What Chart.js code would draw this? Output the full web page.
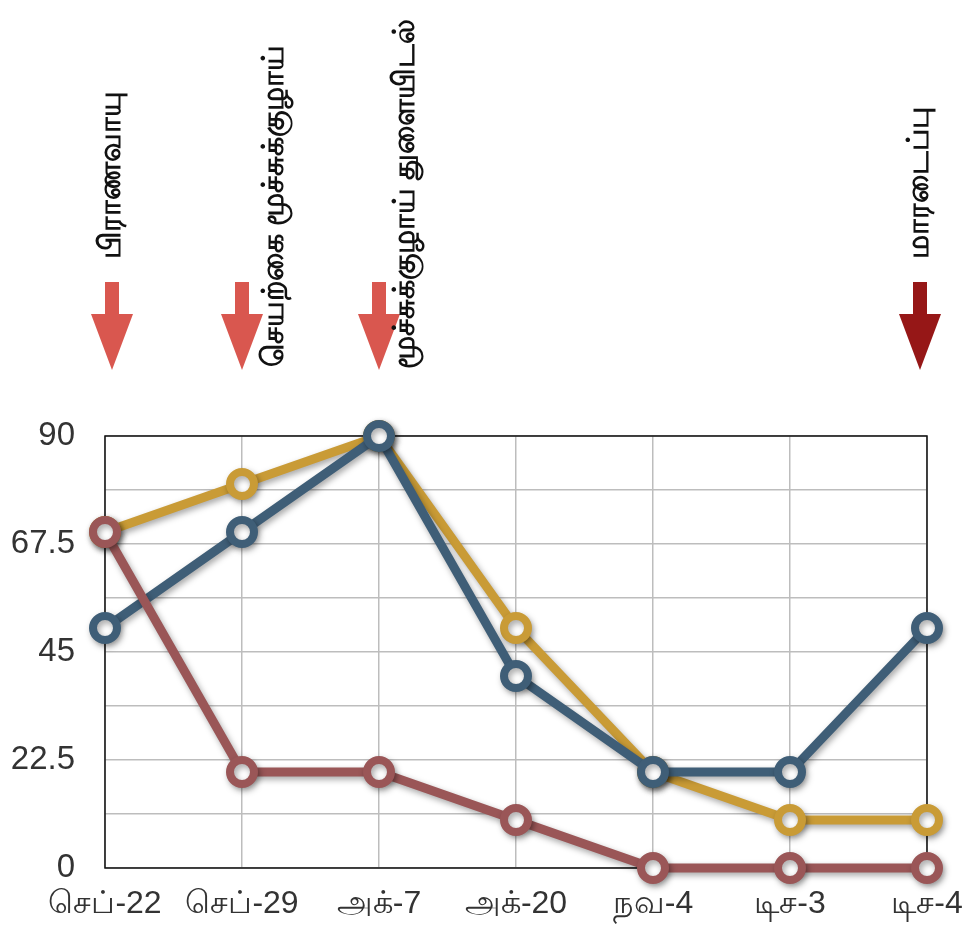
<!DOCTYPE html>
<html>
<head>
<meta charset="utf-8">
<script src="https://cdn.jsdelivr.net/npm/chart.js@4.4.1/dist/chart.umd.min.js"></script>
<style>
  html, body { margin: 0; padding: 0; background: #fff; }
  #wrap { width: 973px; height: 929px; }
</style>
</head>
<body>
<div id="wrap"><canvas id="lineChart"></canvas></div>
<script>
const categories = ['செப்-22', 'செப்-29', 'அக்-7', 'அக்-20', 'நவ-4', 'டிச-3', 'டிச-4'];
const goldValues = [70, 80, 90, 50, 20, 10, 10];
const blueValues = [50, 70, 90, 40, 20, 20, 50];
const redValues = [70, 20, 20, 10, 0, 0, 0];
const yTickLabels = [0, 22.5, 45, 67.5, 90];

// events marked above the chart
const eventLabels = ['பிராணவாயு', 'செயற்கை மூச்சுக்குழாய்', 'மூச்சுக்குழாய் துளையிடல்', 'மாரடைப்பு'];
const eventIndex = [0, 1, 2, 6];
const eventColors = ['#d9574f', '#d9574f', '#d9574f', '#961717'];

const FONT = '"Liberation Sans", "DejaVu Sans", sans-serif';

const shadowPlugin = {
    id: 'lineShadow',
    beforeDatasetDraw(chart) {
        const ctx = chart.ctx;
        ctx.save();
        ctx.shadowColor = 'rgba(0,0,0,0.35)';
        ctx.shadowBlur = 6;
        ctx.shadowOffsetX = 2;
        ctx.shadowOffsetY = 3;
    },
    afterDatasetDraw(chart) {
        chart.ctx.restore();
    }
};

const frameAndEvents = {
    id: 'frameAndEvents',
    beforeDatasetsDraw(chart) {
        const { ctx, chartArea } = chart;
        ctx.save();
        ctx.strokeStyle = '#111';
        ctx.lineWidth = 1.5;
        ctx.strokeRect(chartArea.left, chartArea.top, chartArea.right - chartArea.left, chartArea.bottom - chartArea.top);
        ctx.restore();
    },
    afterDraw(chart) {
        const ctx = chart.ctx;
        const xScale = chart.scales.x;
        const n = categories.length - 1;
        eventLabels.forEach((label, i) => {
            const idx = eventIndex[i];
            // nudge arrows slightly inside at the edges
            let x = xScale.getPixelForValue(idx);
            if (idx === 0) x += 7;
            if (idx === n) x -= 7;

            // arrow
            ctx.save();
            ctx.fillStyle = eventColors[i];
            ctx.beginPath();
            ctx.moveTo(x - 7, 282);
            ctx.lineTo(x + 7, 282);
            ctx.lineTo(x + 7, 314);
            ctx.lineTo(x + 21, 314);
            ctx.lineTo(x, 370);
            ctx.lineTo(x - 21, 314);
            ctx.lineTo(x - 7, 314);
            ctx.closePath();
            ctx.fill();
            ctx.restore();

            // rotated label
            let tx = x, bottom = 259;
            if (idx === 1) { tx = x + 33; bottom = 367; }
            if (idx === 2) { tx = x + 27; bottom = 369; }
            ctx.save();
            ctx.translate(tx, bottom);
            ctx.rotate(-Math.PI / 2);
            ctx.font = 'bold 30px ' + FONT;
            ctx.fillStyle = '#111';
            ctx.textAlign = 'left';
            ctx.textBaseline = 'middle';
            ctx.fillText(label, 0, 0);
            ctx.restore();
        });
    }
};

function makeDataset(label, data, color) {
    return {
        label: label,
        data: data,
        borderColor: color,
        backgroundColor: color,
        borderWidth: 9,
        pointRadius: 12,
        pointHoverRadius: 12,
        pointBorderWidth: 8,
        pointBackgroundColor: '#fff',
        pointBorderColor: color,
        tension: 0,
        clip: false
    };
}

const ctx = document.getElementById('lineChart').getContext('2d');
new Chart(ctx, {
    type: 'line',
    data: {
        labels: categories,
        datasets: [
            makeDataset('red', redValues, '#9a5657'),
            makeDataset('blue', blueValues, '#3f5e77'),
            makeDataset('gold', goldValues, '#c99b36')
        ]
    },
    options: {
        responsive: true,
        maintainAspectRatio: false,
        animation: false,
        layout: { padding: { top: 436, right: 46, left: 0, bottom: 0 } },
        plugins: {
            legend: { display: false },
            tooltip: { enabled: false }
        },
        scales: {
            x: {
                offset: false,
                grid: { color: '#bdbdbd', lineWidth: 1.5, drawTicks: false },
                border: { display: false },
                ticks: {
                    color: '#333',
                    font: { family: FONT, size: 32 },
                    padding: 17,
                    maxRotation: 0,
                    autoSkip: false
                },
                afterFit(scale) {
                    scale.height = 61;
                    scale.paddingLeft = 0;
                    scale.paddingRight = 0;
                }
            },
            y: {
                min: 0,
                max: 90,
                grid: { color: '#bdbdbd', lineWidth: 1.5, drawTicks: false },
                border: { display: false },
                ticks: {
                    stepSize: 11.25,
                    color: '#333',
                    font: { family: FONT, size: 33 },
                    padding: 30,
                    callback: function(value) {
                        return yTickLabels.includes(value) ? String(value) : '';
                    }
                },
                afterFit(scale) { scale.width = 105; }
            }
        }
    },
    plugins: [shadowPlugin, frameAndEvents]
});
</script>
</body>
</html>
